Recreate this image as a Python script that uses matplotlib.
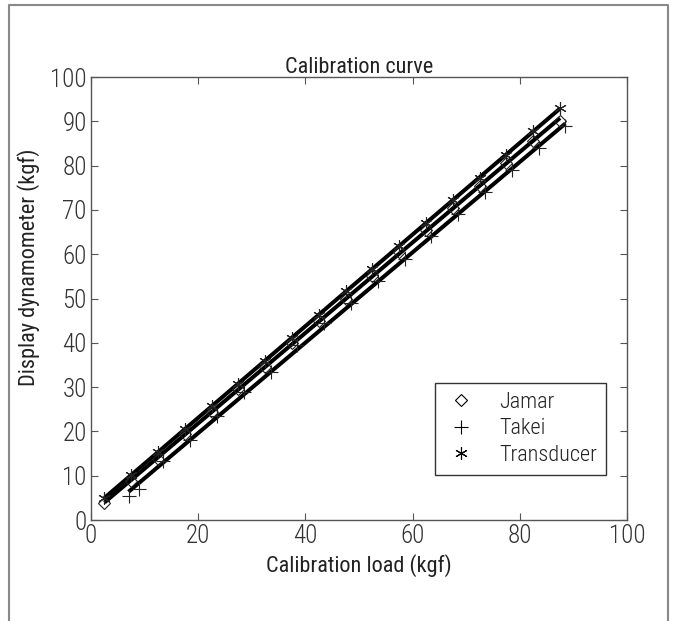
import numpy as np
import matplotlib
matplotlib.use('Agg')
import matplotlib.pyplot as plt
from matplotlib import font_manager
from matplotlib.lines import Line2D

# prefer a condensed face like the original, fall back to Liberation Sans
narrow = None
for fam in ['Roboto Condensed', 'Liberation Sans Narrow', 'Open Sans Condensed', 'Arial Narrow']:
    try:
        font_manager.findfont(font_manager.FontProperties(family=fam), fallback_to_default=False)
        narrow = fam
        break
    except Exception:
        pass
if narrow:
    plt.rcParams['font.family'] = [narrow, 'DejaVu Sans']
    fs = 16
else:
    plt.rcParams['font.family'] = ['Liberation Sans', 'DejaVu Sans']
    fs = 14
plt.rcParams['font.weight'] = 'light'

# calibration loads (kgf) and displayed values
jamar_x = [2.5, 7.5, 12.5, 17.5, 22.5, 27.5, 32.5, 37.5, 42.5, 47.5,
           52.5, 57.5, 62.5, 67.5, 72.5, 77.5, 82.5, 87.5]
jamar_y = [3.8, 8.8, 13.8, 19.4, 24.3, 29.6, 34.5, 40.0, 45.0, 50.0,
           55.0, 60.5, 65.5, 70.5, 75.5, 80.5, 85.5, 90.0]

takei_x = [7.0, 9.0, 13.5, 18.5, 23.5, 28.5, 33.5, 38.5, 43.5, 48.5,
           53.5, 58.5, 63.5, 68.5, 73.5, 78.5, 83.5, 88.5]
takei_y = [5.4, 7.0, 13.3, 18.1, 23.5, 29.0, 33.5, 39.5, 44.5, 49.0,
           54.0, 59.0, 64.0, 69.0, 74.0, 79.0, 84.0, 89.0]

trans_x = [2.5, 7.5, 12.5, 17.5, 22.5, 27.5, 32.5, 37.5, 42.5, 47.5,
           52.5, 57.5, 62.5, 67.5, 72.5, 77.5, 82.5, 87.5]
trans_y = [5.0, 10.2, 15.3, 20.5, 25.7, 30.8, 36.0, 41.2, 46.3, 51.6,
           56.7, 61.9, 67.0, 72.2, 77.3, 82.5, 87.7, 93.0]

xticks = [0, 20, 40, 60, 80, 100]
yticks = list(range(0, 101, 10))

fig = plt.figure(figsize=(6.77, 6.21), dpi=100)
ax = fig.add_axes([0.1344, 0.1626, 0.7918, 0.7134])

series = [
    ('Jamar', jamar_x, jamar_y, 'D', 6.5),
    ('Takei', takei_x, takei_y, '+', 10),
    ('Transducer', trans_x, trans_y, (6, 2, 0), 9),
]
handles = []
for name, xs, ys, mk, ms in series:
    xs = np.array(xs)
    ys = np.array(ys)
    m, b = np.polyfit(xs, ys, 1)
    xl = np.array([xs.min(), xs.max()])
    ax.plot(xl, m * xl + b, color='black', lw=2.9, solid_capstyle='butt', zorder=2)
    ax.plot(xs, ys, linestyle='none', marker=mk, markersize=ms,
            markerfacecolor='none', markeredgecolor='#222222', markeredgewidth=0.8, zorder=3)
    handles.append(Line2D([], [], linestyle='none', marker=mk, markersize=ms,
                          markerfacecolor='none', markeredgecolor='black',
                          markeredgewidth=0.8, label=name))

ax.set_xlim(0, 100)
ax.set_ylim(0, 100)
ax.set_xticks(xticks)
ax.set_yticks(yticks)
ax.tick_params(direction='in', top=True, right=True, length=5, width=0.8,
               color='#555555', labelsize=fs + 2, labelcolor='#333333', pad=3)
for s in ax.spines.values():
    s.set_color('#555555')
    s.set_linewidth(1.0)

ax.set_title('Calibration curve', fontsize=fs, color='#222222', pad=3)
ax.set_xlabel('Calibration load (kgf)', fontsize=fs, color='#222222', labelpad=4)
ax.set_ylabel('Display dynamometer (kgf)', fontsize=fs, color='#222222')
ax.yaxis.set_label_coords(-0.095, 0.57)

leg = ax.legend(handles=handles, loc='lower left', bbox_to_anchor=(0.642, 0.102),
                fontsize=fs, frameon=True, fancybox=False, borderaxespad=0,
                handletextpad=1.0, handlelength=1.5, labelspacing=0.25,
                borderpad=0.4)
leg.get_frame().set_edgecolor('black')
leg.get_frame().set_linewidth(1.0)
for t in leg.get_texts():
    t.set_color('#222222')

# outer frame of the figure panel (open at the bottom)
fx0, fx1, fy1 = 9 / 677, 668 / 677, 1 - 5 / 621
fig.add_artist(Line2D([fx0, fx0, fx1, fx1], [0, fy1, fy1, 0],
                      transform=fig.transFigure, color='#888888', lw=1.5))

fig.savefig('out.png', dpi=100)
